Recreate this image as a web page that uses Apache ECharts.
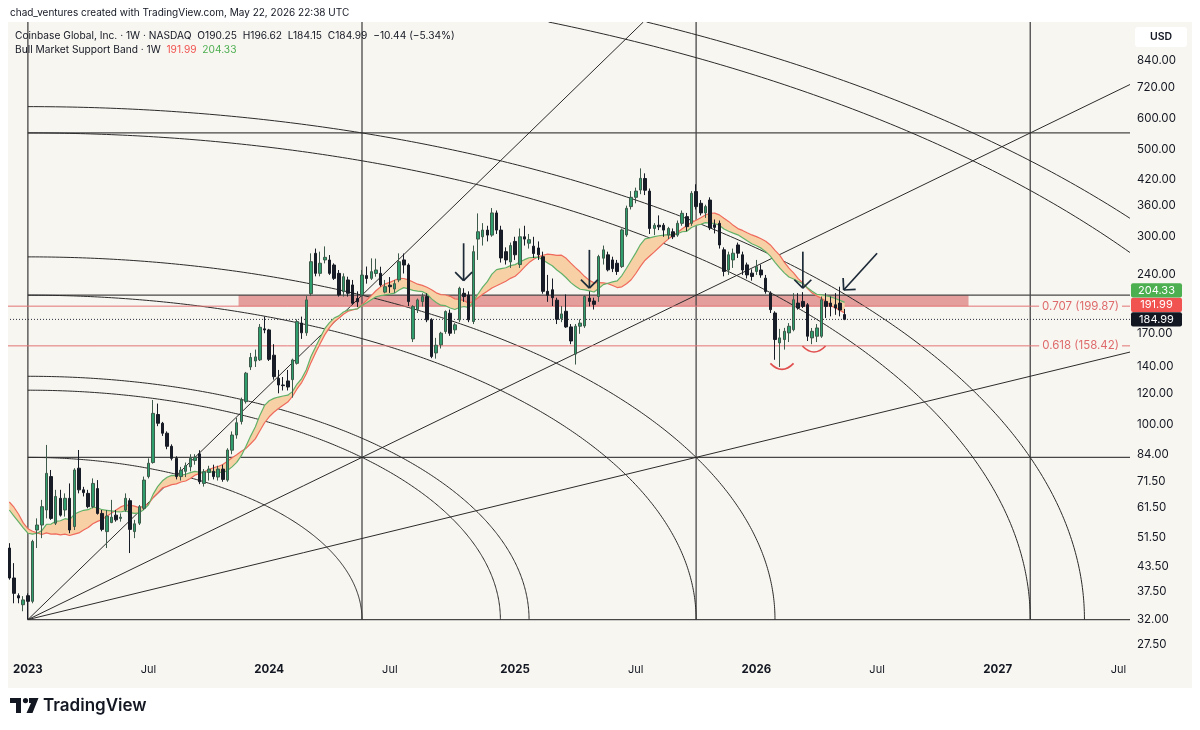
<!DOCTYPE html>
<html>
<head>
<meta charset="utf-8">
<title>COIN 1W</title>
<script src="https://cdn.jsdelivr.net/npm/echarts@6/dist/echarts.min.js"></script>
<style>
  html, body { margin: 0; padding: 0; background: #ffffff; }
  #chart { width: 1200px; height: 730px; }
</style>
</head>
<body>
<div id="chart"></div>
<script>
var FONT = 'Inter, "Noto Sans", sans-serif';

// weekly bars start 2022-12-05 (week -4), week 0 = 2023-01-02
var firstWeek = Date.UTC(2022, 11, 5);
var weekOffset = 4;
var weekCount = 242;

// [open, high, low, close]
var candles = [
  [48.5,49.9,40.3,40.7],[40.7,44.4,35.1,37.2],[36.7,37.2,35.1,36.2],[34.8,36.6,33.5,35.8],
  [36.7,37.2,31.9,35.5],[35.5,50.9,35.1,50.4],[53.9,57.7,48.5,55.5],[55.5,64.3,51.4,61.8],
  [60.6,88.7,57.7,75.1],[73.7,76.6,57.2,57.7],[56.1,68.2,55.5,65.6],[64.9,68.2,58.3,58.8],
  [60.6,66.8,58.3,64.9],[64.9,70.8,52.9,53.9],[55.0,77.4,53.9,76.6],[77.4,86.1,66.8,68.2],
  [68.2,69.4,65.6,67.1],[66.8,68.2,61.2,61.8],[61.8,72.9,61.2,70.8],[68.7,72.2,59.0,59.4],
  [59.4,60.6,53.5,54.1],[53.4,60.6,48.5,58.5],[56.3,64.3,56.1,58.1],[58.8,60.6,56.6,57.2],
  [57.7,59.4,56.6,58.1],[60.6,66.8,60.0,64.9],[64.0,64.9,47.1,54.1],[53.4,57.2,51.4,55.9],
  [56.1,62.4,55.5,61.8],[61.2,73.7,60.6,72.2],[73.7,82.0,72.9,79.7],[80.0,115.4,79.5,106.7],
  [106.0,113.0,99.0,100.7],[100.7,101.5,93.5,95.0],[95.0,96.0,86.5,88.0],[88.0,89.0,81.0,82.0],
  [82.0,83.0,72.5,73.7],[73.7,78.0,72.0,76.5],[76.0,80.0,73.5,78.5],[78.0,84.0,76.0,82.0],
  [81.0,84.0,79.0,82.5],[84.2,86.0,70.5,71.5],[70.8,77.0,69.5,75.8],[75.5,78.5,72.0,77.0],
  [76.0,79.0,72.5,73.7],[73.5,78.5,72.0,77.0],[77.0,79.0,71.5,72.5],[72.2,87.0,71.5,86.1],
  [86.0,96.0,84.0,94.0],[94.0,104.0,92.0,101.0],[101.7,117.0,100.0,115.4],[114.3,136.0,113.0,135.0],
  [140.0,152.0,137.5,148.0],[145.0,155.0,140.0,148.5],[146.0,180.0,145.0,176.6],[175.0,188.0,170.6,173.9],
  [173.9,175.0,145.0,146.4],[150.0,160.0,130.0,132.3],[131.0,137.6,120.0,126.0],[126.0,132.0,122.0,125.5],
  [129.0,137.6,122.0,124.5],[130.0,147.0,117.0,145.9],[143.0,185.0,142.0,182.6],[181.0,188.0,165.0,171.0],
  [171.0,212.0,168.0,207.3],[215.0,272.3,212.0,259.3],[272.3,280.0,238.0,242.2],[242.2,275.0,238.0,257.0],
  [262.0,283.6,256.8,266.0],[261.9,269.6,240.0,242.2],[254.3,256.8,233.0,235.2],[242.2,247.0,211.4,213.4],
  [217.6,242.2,211.4,237.5],[233.0,237.5,211.4,215.5],[226.3,233.0,201.5,203.3],[209.0,218.0,199.0,205.0],
  [213.4,247.0,211.4,239.8],[239.0,252.0,228.0,235.0],[235.2,264.4,233.0,244.6],[242.0,264.0,237.5,247.0],
  [242.2,251.8,224.1,226.3],[217.0,233.0,215.5,224.0],[226.0,237.0,216.0,224.0],[221.0,233.0,216.0,228.0],
  [233.0,272.3,230.0,259.3],[262.0,272.0,242.0,254.3],[254.3,256.8,200.0,205.3],[165.0,201.0,162.0,199.4],
  [196.0,209.0,192.0,207.3],[205.3,215.5,199.4,211.4],[211.4,215.5,182.0,184.5],[184.5,186.2,147.4,148.9],
  [152.0,166.0,147.0,159.0],[159.4,172.0,156.0,170.6],[172.3,195.0,170.0,193.7],[191.8,196.0,168.0,170.6],
  [174.0,181.0,170.0,179.2],[184.5,224.0,182.0,221.9],[215.5,222.0,205.0,211.4],[213.4,218.0,182.0,184.5],
  [182.7,285.0,180.0,275.0],[296.0,344.0,262.0,309.0],[300.0,325.0,285.0,312.0],[312.0,320.0,292.0,303.0],
  [303.0,355.0,300.0,345.0],[345.0,350.0,305.0,312.0],[312.0,320.0,258.0,265.0],[275.0,282.0,255.0,262.0],
  [259.0,290.0,250.0,285.0],[292.0,300.0,262.0,270.0],[255.0,315.0,250.0,300.0],[300.0,320.0,285.0,296.0],
  [289.0,305.0,280.0,295.0],[284.0,300.0,265.0,272.0],[281.0,292.0,262.0,270.0],[267.0,275.0,215.0,218.0],
  [218.0,240.0,205.0,213.0],[220.0,235.0,200.0,210.0],[207.0,210.0,180.0,185.0],[186.0,200.0,182.0,191.0],
  [194.0,214.0,176.0,177.0],[177.0,180.0,160.0,163.0],[151.0,180.0,142.0,177.7],[177.7,185.0,170.0,181.0],
  [178.0,213.0,176.0,211.5],[209.5,218.0,199.6,205.5],[206.0,210.0,196.0,202.0],[211.5,270.0,205.0,267.2],
  [264.7,285.0,255.0,277.9],[269.9,275.0,245.0,247.2],[262.0,267.0,244.0,249.0],[257.0,262.0,240.0,244.8],
  [252.0,315.0,250.0,312.3],[303.3,360.0,300.0,354.4],[358.0,392.0,352.0,378.0],[378.0,400.0,365.0,392.0],
  [394.5,447.8,385.0,422.4],[422.0,435.0,383.0,394.0],[392.0,398.0,305.0,315.0],[315.0,325.0,303.0,321.0],
  [321.0,340.0,312.0,318.0],[321.0,325.0,300.0,312.0],[303.0,318.0,296.0,315.0],[309.0,315.0,296.0,300.0],
  [303.0,330.0,300.0,324.6],[324.6,350.0,320.0,344.2],[337.6,345.0,310.0,318.4],[324.6,392.0,320.0,386.9],
  [391.0,408.0,352.0,358.0],[365.0,372.0,340.0,345.0],[345.0,362.0,335.0,358.0],[372.0,378.0,312.0,316.0],
  [322.0,332.0,306.0,317.0],[324.6,330.0,280.0,286.0],[278.0,282.0,238.0,245.0],[247.0,275.0,240.0,270.0],
  [262.0,280.0,250.0,272.5],[286.0,290.0,265.0,272.5],[270.0,275.0,240.0,247.0],[254.5,258.0,235.0,240.0],
  [242.5,248.0,232.0,237.8],[244.8,262.0,240.0,252.0],[247.0,255.0,236.0,240.0],[235.5,240.0,215.0,217.8],
  [215.7,218.0,192.0,195.8],[192.0,194.0,146.0,164.4],[161.2,175.0,140.0,166.0],[164.4,176.0,155.0,172.5],
  [170.9,181.0,162.0,177.7],[174.2,215.7,172.5,207.5],[203.5,215.7,195.8,197.7],[205.5,217.0,197.7,199.6],
  [201.5,203.5,163.0,167.6],[166.0,175.9,160.0,172.5],[167.6,180.0,162.0,175.9],[167.6,211.5,166.0,207.5],
  [205.5,215.7,186.5,199.6],[203.5,211.5,188.3,199.6],[201.5,215.7,190.0,197.7],[203.5,224.0,188.3,195.43],
  [190.25,196.62,184.15,184.99]
];

// Bull Market Support Band: 20w SMA (red) and 21w EMA (green)
var sma20 = [
  63.5,61.6,59.1,56.2,54.3,53.5,53.0,52.5,53.0,52.6,52.7,52.4,52.6,52.2,52.6,53.0,53.9,54.7,55.9,56.7,
  57.3,58.4,59.5,60.6,61.7,62.4,62.3,62.0,61.4,62.1,62.8,65.2,67.0,69.0,69.6,70.3,70.6,71.4,71.8,72.9,
  74.3,75.0,75.8,76.8,77.6,78.2,79.1,80.6,82.3,83.7,85.5,86.9,89.3,91.9,96.4,101.0,104.6,107.4,109.8,111.9,
  114.0,117.8,123.1,127.8,134.5,143.6,152.1,160.6,169.2,176.3,182.3,186.2,190.7,194.0,195.4,196.9,201.6,206.7,212.6,218.7,
  223.8,227.7,229.8,232.6,235.2,235.0,233.1,230.3,227.3,225.8,223.2,220.0,216.1,213.9,213.4,211.7,208.6,208.0,206.3,203.2,
  205.6,209.9,214.3,218.0,222.3,225.2,228.2,231.3,235.2,238.1,243.9,251.2,258.0,263.1,266.9,269.3,271.0,270.4,269.1,269.4,
  264.5,257.2,250.5,244.4,237.7,232.4,229.2,229.5,229.1,228.0,225.5,222.9,223.8,227.9,233.3,242.0,252.4,261.6,268.1,274.6,
  281.7,289.1,296.0,302.0,307.6,314.6,320.4,326.4,330.4,335.3,340.7,344.3,344.5,341.1,334.4,328.3,320.8,314.8,311.4,307.3,
  303.3,300.3,296.5,292.4,286.0,277.0,269.4,258.7,249.7,242.8,234.8,228.9,221.5,215.8,212.3,209.2,205.6,200.5,198.0,195.0,
  191.99
];
var ema21 = [
  60.6,58.5,56.5,54.6,52.9,52.6,52.9,53.7,55.7,55.8,56.7,56.9,57.6,57.3,59.1,59.9,60.5,60.7,61.6,61.4,
  60.7,60.5,60.3,60.0,59.9,60.3,59.7,59.4,59.6,60.8,62.5,66.5,69.6,71.9,73.4,74.2,74.1,74.3,74.7,75.4,
  76.0,75.6,75.6,75.8,75.6,75.7,75.4,76.4,78.0,80.1,83.3,88.0,93.4,98.5,105.6,111.8,114.9,116.5,117.4,118.1,
  118.7,121.2,126.7,130.8,137.7,148.8,157.3,166.3,175.4,181.5,186.4,188.8,193.2,195.3,196.0,196.8,200.7,203.8,207.5,211.1,
  212.5,213.6,214.5,215.7,219.7,222.8,221.2,219.3,218.2,217.6,214.6,208.6,204.1,201.0,200.4,197.7,196.0,198.3,199.5,198.2,
  205.2,214.6,223.4,230.7,241.1,247.5,249.1,250.3,253.4,254.9,259.0,262.4,265.4,266.0,266.3,261.9,257.5,253.2,247.0,241.9,
  236.0,229.4,224.7,220.7,219.9,218.6,217.1,221.6,226.7,228.6,230.4,231.8,239.1,249.6,261.2,273.1,286.7,296.4,298.1,300.2,
  301.8,302.8,303.9,303.5,305.4,309.0,309.8,316.8,320.6,322.8,326.0,325.1,324.4,320.9,314.0,310.0,306.6,303.5,298.3,293.0,
  288.0,284.7,280.7,275.0,267.8,258.4,250.0,242.9,237.0,234.3,231.0,228.1,222.6,218.1,214.2,213.6,212.4,211.0,209.0,206.8,
  204.33
];

var priceTicks = [840, 720, 600, 500, 420, 360, 300, 240, 170, 140, 120, 100, 84, 71.5, 61.5, 51.5, 43.5, 37.5, 32, 27.5];
var fibLevels = [['0.707', 199.87], ['0.618', 158.42]];
var lastClose = 184.99;
// price tags on the axis, lowest first
var priceTags = [[184.99, '#131722'], [191.99, '#f05350'], [204.33, '#4caf50']];

// gann square: first week, last week, low, high
var gannBox = [0, 216, 31.9, 551];
var gannArcs = [[1, 0], [1, 1], [1.5, 0], [2, 0], [2, 1], [3, 0], [3, 1], [4, 0], [4, 1], [5, 0], [5, 1]];
var gannFan = [[1, 2], [1, 1], [2, 1]];
// resistance zone: week from, week to, price low, price high
var zone = [45.4, 202.7, 199.87, 213.3];
// arrows: tail week, tail price, tip week, tip price
var arrows = [[93.9, 288.8, 93.9, 232.0], [121.0, 277.9, 121.0, 222.2], [167.0, 275.0, 167.0, 222.0], [183.0, 272.4, 175.8, 219.7]];
// red smiles under the lows: week from, week to, price
var smiles = [[160.0, 165.0, 143.0], [166.9, 171.9, 158.3]];

var weeks = [];
for (var k = 0; k < weekCount; k++) {
  weeks.push(new Date(firstWeek + k * 7 * 864e5).toISOString().slice(0, 10));
}

function helpers(params, api) {
  var p0 = api.coord([0, 100]), p1 = api.coord([1, 100]);
  var bw = p1[0] - p0[0];
  var cs = params.coordSys;
  return {
    X: function (w) { return p0[0] + (w + weekOffset) * bw; },
    Y: function (p) { return api.coord([0, p])[1]; },
    L: cs.x, T: cs.y, R: cs.x + cs.width, B: cs.y + cs.height
  };
}

function clipSeg(x1, y1, x2, y2, r) {
  var t0 = 0, t1 = 1, dx = x2 - x1, dy = y2 - y1;
  var p = [-dx, dx, -dy, dy], q = [x1 - r.L, r.R - x1, y1 - r.T, r.B - y1];
  for (var i = 0; i < 4; i++) {
    if (p[i] === 0) { if (q[i] < 0) return null; }
    else {
      var t = q[i] / p[i];
      if (p[i] < 0) { if (t > t1) return null; if (t > t0) t0 = t; }
      else { if (t < t0) return null; if (t < t1) t1 = t; }
    }
  }
  return [x1 + t0 * dx, y1 + t0 * dy, x1 + t1 * dx, y1 + t1 * dy, t0, t1];
}

function seg(h, x1, y1, x2, y2, style) {
  var c = clipSeg(x1, y1, x2, y2, h);
  if (!c) return null;
  return { type: 'line', shape: { x1: c[0], y1: c[1], x2: c[2], y2: c[3] }, style: style };
}

function clipPoly(pts, h) {
  var out = [], cur = null;
  for (var i = 1; i < pts.length; i++) {
    var c = clipSeg(pts[i - 1][0], pts[i - 1][1], pts[i][0], pts[i][1], h);
    if (!c) { if (cur) { out.push(cur); cur = null; } continue; }
    if (!cur || c[4] > 0) { if (cur) out.push(cur); cur = [[c[0], c[1]]]; }
    cur.push([c[2], c[3]]);
    if (c[5] < 1) { out.push(cur); cur = null; }
  }
  if (cur) out.push(cur);
  return out;
}

var gridStyle = { stroke: '#474747', lineWidth: 1.3 };
var gannStyle = { stroke: '#2b2b2b', lineWidth: 1 };

function drawBack(params, api) {
  var h = helpers(params, api);
  var kids = [];
  var zx1 = h.X(zone[0]), zx2 = h.X(zone[1]), zy1 = h.Y(zone[3]), zy2 = h.Y(zone[2]);
  kids.push({ type: 'rect', shape: { x: zx1, y: zy1, width: zx2 - zx1, height: zy2 - zy1 }, style: { fill: 'rgba(208,72,72,0.5)' } });

  var gx0 = h.X(gannBox[0]), gx1 = h.X(gannBox[1]), gy0 = h.Y(gannBox[2]), gy1 = h.Y(gannBox[3]);
  var u = (gx1 - gx0) / 3, v = (gy0 - gy1) / 3;
  for (var k = 0; k < 4; k++) {
    kids.push(seg(h, gx0 + k * u, h.T, gx0 + k * u, gy0, gridStyle));
    kids.push(seg(h, gx0, gy0 - k * v, h.R, gy0 - k * v, gridStyle));
  }
  gannFan.forEach(function (f) {
    var dx = f[0] * u, dy = f[1] * v;
    var t = Math.min((h.R - gx0) / dx, (gy0 - h.T) / dy);
    kids.push(seg(h, gx0, gy0, gx0 + dx * t, gy0 - dy * t, gannStyle));
  });
  gannArcs.forEach(function (a) {
    var r = Math.sqrt(a[0] * a[0] + a[1] * a[1]);
    var pts = [];
    for (var s = 0; s <= 300; s++) {
      var th = s / 300 * Math.PI / 2;
      pts.push([gx0 + r * u * Math.cos(th), gy0 - r * v * Math.sin(th)]);
    }
    clipPoly(pts, h).forEach(function (pl) {
      kids.push({ type: 'polyline', shape: { points: pl }, style: { stroke: '#2b2b2b', lineWidth: 1, fill: null } });
    });
  });

  fibLevels.forEach(function (f) {
    var y = h.Y(f[1]);
    kids.push(seg(h, h.L, y, h.R, y, { stroke: '#e27474', lineWidth: 1 }));
  });
  var py = h.Y(lastClose);
  kids.push(seg(h, h.L, py, h.R, py, { stroke: '#2a2e39', lineWidth: 1, lineDash: [1, 2] }));
  return { type: 'group', children: kids.filter(Boolean) };
}

function drawBand(params, api) {
  var h = helpers(params, api);
  var pts = [];
  for (var i = 0; i < sma20.length; i++) pts.push([h.X(i - weekOffset), h.Y(sma20[i])]);
  for (var j = ema21.length - 1; j >= 0; j--) pts.push([h.X(j - weekOffset), h.Y(ema21[j])]);
  return { type: 'polygon', shape: { points: pts }, style: { fill: '#f7d1a5' } };
}

function drawFront(params, api) {
  var h = helpers(params, api);
  var kids = [];
  arrows.forEach(function (a) {
    var tx = h.X(a[0]), ty = h.Y(a[1]), px = h.X(a[2]), py = h.Y(a[3]);
    var st = { stroke: '#1d2a38', lineWidth: 1.7 };
    kids.push({ type: 'line', shape: { x1: tx, y1: ty, x2: px, y2: py }, style: st });
    var dx = tx - px, dy = ty - py, len = Math.sqrt(dx * dx + dy * dy);
    dx /= len; dy /= len;
    [Math.PI / 4, -Math.PI / 4].forEach(function (ang) {
      var c = Math.cos(ang), s = Math.sin(ang);
      kids.push({ type: 'line', shape: { x1: px, y1: py, x2: px + 12 * (dx * c - dy * s), y2: py + 12 * (dx * s + dy * c) }, style: st });
    });
  });
  smiles.forEach(function (s) {
    var x1 = h.X(s[0]), x2 = h.X(s[1]), y = h.Y(s[2]);
    kids.push({ type: 'bezierCurve', shape: { x1: x1, y1: y, x2: x2, y2: y, cpx1: (x1 + x2) / 2, cpy1: y + 12 }, style: { stroke: '#e0504f', lineWidth: 1.7, fill: null } });
  });
  fibLevels.forEach(function (f) {
    kids.push({ type: 'text', x: h.R - 8, y: h.Y(f[1]), style: {
      text: f[0] + ' (' + f[1].toFixed(2) + ')', fill: '#de6b6b', font: '11.5px ' + FONT,
      align: 'right', verticalAlign: 'middle', backgroundColor: '#f8f6f1', padding: [1, 3, 1, 3]
    } });
  });
  return { type: 'group', children: kids };
}

// axis price tags, stacked upward so they do not overlap
function drawTags(params, api) {
  var h = helpers(params, api);
  var kids = [];
  var prevY = Infinity;
  priceTags.forEach(function (t) {
    var y = Math.min(h.Y(t[0]), prevY - 14.5);
    prevY = y;
    kids.push({ type: 'rect', shape: { x: h.R + 1, y: y - 7.2, width: 51, height: 14.4, r: 2 }, style: { fill: t[1] } });
    kids.push({ type: 'text', x: h.R + 26.5, y: y, style: {
      text: t[0].toFixed(2), fill: '#ffffff', font: '11px ' + FONT, align: 'center', verticalAlign: 'middle'
    } });
  });
  return { type: 'group', children: kids };
}

var chart = echarts.init(document.getElementById('chart'), null, { renderer: 'canvas' });

var option = {
  animation: false,
  backgroundColor: '#f8f6f1',
  textStyle: { fontFamily: FONT },
  grid: { left: 7, right: 70, top: 22, bottom: 75 },
  xAxis: {
    type: 'category',
    data: weeks,
    boundaryGap: true,
    axisLine: { show: false },
    axisTick: { show: false },
    splitLine: { show: false },
    axisLabel: {
      margin: 9,
      color: '#131722',
      fontSize: 11,
      interval: function (index, value) {
        var d = new Date(value + 'T00:00:00Z');
        return d.getUTCDate() <= 7 && (d.getUTCMonth() === 0 || d.getUTCMonth() === 6);
      },
      formatter: function (value) {
        var d = new Date(value + 'T00:00:00Z');
        return d.getUTCMonth() === 0 ? '{y|' + d.getUTCFullYear() + '}' : 'Jul';
      },
      rich: { y: { fontWeight: 'bold', fontSize: 11.5, color: '#131722' } }
    }
  },
  yAxis: {
    type: 'log',
    logBase: 10,
    position: 'right',
    min: 25.93,
    max: 1055,
    axisLine: { show: false },
    axisTick: { show: false },
    splitLine: { show: false },
    axisLabel: {
      customValues: priceTicks,
      formatter: function (v) { return Number(v).toFixed(2); },
      color: '#131722',
      fontSize: 11.5,
      margin: 7,
      align: 'left'
    }
  },
  graphic: [
    { type: 'rect', z: 100, shape: { x: 0, y: 0, width: 1200, height: 22 }, style: { fill: '#ffffff' } },
    { type: 'rect', z: 100, shape: { x: 0, y: 688, width: 1200, height: 42 }, style: { fill: '#ffffff' } },
    { type: 'rect', z: 100, shape: { x: 0, y: 0, width: 8, height: 730 }, style: { fill: '#ffffff' } },
    { type: 'rect', z: 100, shape: { x: 1192, y: 0, width: 8, height: 730 }, style: { fill: '#ffffff' } },
    { type: 'text', z: 101, x: 10, y: 13, style: { text: 'chad_ventures created with TradingView.com, May 22, 2026 22:38 UTC', font: '10px ' + FONT, fill: '#131722', verticalAlign: 'middle' } },
    { type: 'text', z: 101, x: 15, y: 36, style: { text: 'Coinbase Global, Inc. · 1W · NASDAQ  O190.25  H196.62  L184.15  C184.99  \u221210.44 (\u22125.34%)', font: '10.2px ' + FONT, fill: '#131722', verticalAlign: 'middle' } },
    { type: 'text', z: 101, x: 15, y: 50, style: {
      text: 'Bull Market Support Band · 1W  {r|191.99}  {g|204.33}', font: '10.2px ' + FONT, fill: '#131722', verticalAlign: 'middle',
      rich: { r: { fill: '#f05350', font: '10.2px ' + FONT }, g: { fill: '#4caf50', font: '10.2px ' + FONT } }
    } },
    { type: 'rect', z: 101, shape: { x: 1135, y: 27, width: 52, height: 20, r: 3 }, style: { fill: '#ffffff' } },
    { type: 'text', z: 102, x: 1161, y: 37, style: { text: 'USD', font: '600 10.5px ' + FONT, fill: '#131722', align: 'center', verticalAlign: 'middle' } },
    { type: 'rect', z: 101, shape: { x: 10, y: 698, width: 11, height: 5 }, style: { fill: '#131722' } },
    { type: 'rect', z: 101, shape: { x: 16, y: 698, width: 5, height: 15 }, style: { fill: '#131722' } },
    { type: 'circle', z: 101, shape: { cx: 25.5, cy: 700.6, r: 2.6 }, style: { fill: '#131722' } },
    { type: 'polygon', z: 101, shape: { points: [[29, 698], [38.5, 698], [32.5, 713], [26.5, 713], [31, 703], [29, 703]] }, style: { fill: '#131722' } },
    { type: 'text', z: 101, x: 43, y: 705.5, style: { text: 'TradingView', font: '600 17px ' + FONT, fill: '#131722', verticalAlign: 'middle' } }
  ],
  series: [
    { type: 'custom', name: 'drawings', renderItem: drawBack, data: [[0, 100]], encode: { x: 0, y: 1 }, clip: true, z: 1, silent: true },
    { type: 'custom', name: 'band', renderItem: drawBand, data: [[0, 100]], encode: { x: 0, y: 1 }, clip: true, z: 2, silent: true },
    { type: 'line', name: 'SMA 20', data: sma20, showSymbol: false, lineStyle: { color: '#ef6a5c', width: 1.2 }, z: 3, silent: true },
    { type: 'line', name: 'EMA 21', data: ema21, showSymbol: false, lineStyle: { color: '#62b169', width: 1.2 }, z: 3, silent: true },
    {
      type: 'candlestick', name: 'COIN',
      data: candles.map(function (c) { return [c[0], c[3], c[2], c[1]]; }),
      barWidth: 3,
      itemStyle: { color: '#2f9e6c', color0: '#171c26', borderColor: '#3d5a4b', borderColor0: '#171c26', borderWidth: 1 },
      z: 4, silent: true
    },
    { type: 'custom', name: 'marks', renderItem: drawFront, data: [[0, 100]], encode: { x: 0, y: 1 }, clip: true, z: 5, silent: true },
    { type: 'custom', name: 'tags', renderItem: drawTags, data: [[0, 100]], encode: { x: 0, y: 1 }, clip: false, z: 6, silent: true }
  ]
};

chart.setOption(option);
</script>
</body>
</html>
